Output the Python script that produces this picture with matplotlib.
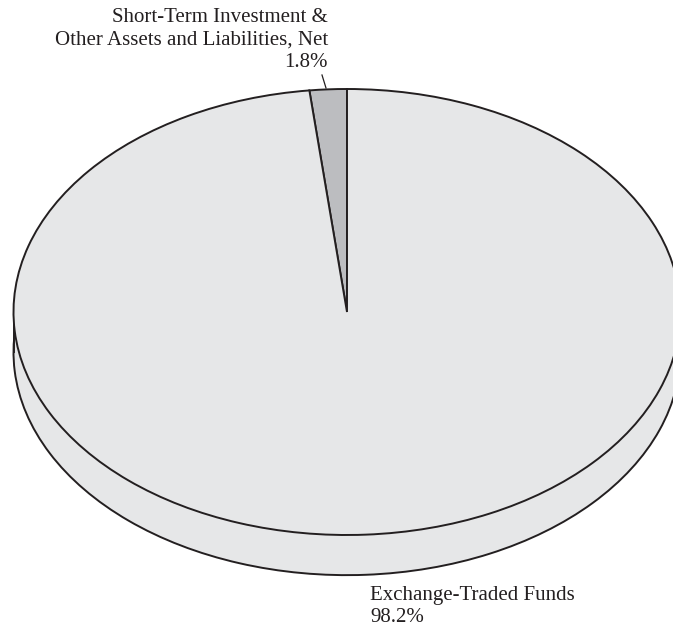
import matplotlib
matplotlib.use("Agg")
import matplotlib.pyplot as plt
from matplotlib.patches import Rectangle

# ========== Data ==========
label_lines = [["Short-Term Investment &", "Other Assets and Liabilities, Net"],
               ["Exchange-Traded Funds"]]
values = [1.8, 98.2]
colors = ["#bcbdc0", "#e6e7e8"]
pct_text = ["1.8%", "98.2%"]

edge = "#231f20"
depth = 0.18  # thickness of the pie side, in radius units

W, H = 673, 626
fig = plt.figure(figsize=(W / 100, H / 100), dpi=100)
ax = fig.add_axes([0, 0, 1, 1])

# pixel geometry of the ellipse -> data limits (radius 1)
cx, cy, rx, ry = 347, 312, 333.5, 223

wp = dict(edgecolor=edge, linewidth=1.4)

# bottom (side) of the pie
ax.pie(values, colors=[colors[1]] * 2, startangle=90, counterclock=True,
       center=(0, -depth), radius=1, wedgeprops=wp, frame=True)
ax.add_patch(Rectangle((-1, -depth), 2, depth, facecolor=colors[1], edgecolor="none", zorder=2))
ax.plot([-1, -1], [-depth, 0], color=edge, lw=1.4, zorder=2)
ax.plot([1, 1], [-depth, 0], color=edge, lw=1.4, zorder=2)

# top face
wedges, _ = ax.pie(values, colors=colors, startangle=90, counterclock=True,
                   center=(0, 0), radius=1, wedgeprops=wp, frame=True)
for w in wedges:
    w.set_zorder(3)

ax.set_aspect("auto")
ax.set_xlim(-cx / rx, (W - cx) / rx)
ax.set_ylim((cy - H) / ry, cy / ry)
ax.axis("off")

# ========== Labels ==========
font = dict(family="Liberation Serif", fontsize=15, color="#231f20", va="baseline")


def px(x, y):
    return x / W, 1 - y / H


# small slice label, right aligned, one text per line
lines0 = label_lines[0] + [pct_text[0]]
for i, s in enumerate(lines0):
    ax.text(*px(328, 22 + 22.5 * i), s, transform=ax.transAxes, ha="right", **font)
ax.plot([322 / W, 326 / W], [1 - 75 / H, 1 - 88 / H], transform=ax.transAxes,
        color=edge, lw=0.9, zorder=5)

# big slice label
lines1 = label_lines[1] + [pct_text[1]]
for i, s in enumerate(lines1):
    ax.text(*px(370, 600 + 22 * i), s, transform=ax.transAxes, ha="left", **font)

fig.savefig("out.png", dpi=100)
